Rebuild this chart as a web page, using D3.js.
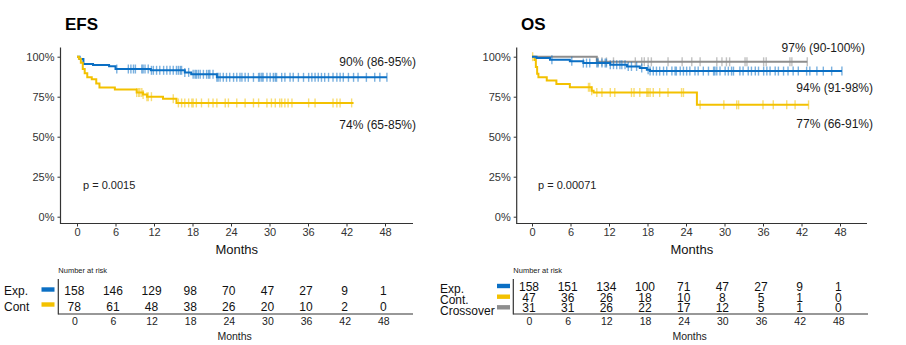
<!DOCTYPE html>
<html>
<head>
<meta charset="utf-8">
<script src="https://cdn.jsdelivr.net/npm/d3@7"></script>
<style>
  body { margin: 0; background: #fff; }
  svg { display: block; font-family: "Liberation Sans", Arial, sans-serif; }
</style>
</head>
<body>
<svg id="chart" width="906" height="345"></svg>
<script>
// survival steps [month, %] and censor times
const efsExpSteps = [[0,100],[0.4,98.5],[1.0,95.5],[2.5,94.8],[5.0,94.0],[6.0,92.3],[11.5,91.5],[16.8,90.2],[17.8,89.0],[21.8,87.1]];
const efsExpEnd = 48.3;
const efsExpCensor = [6.2,8.0,8.4,8.8,9.1,10.1,10.3,10.6,11.1,11.6,11.9,12.4,12.9,13.5,14.0,14.5,15.0,15.5,15.8,16.1,16.3,16.8,17.4,18.1,18.4,18.6,18.9,19.2,19.7,20.2,20.5,20.7,21.2,21.8,22.0,22.3,22.8,23.3,23.8,24.4,24.9,25.4,25.7,26.2,26.7,27.5,28.3,28.5,28.8,29.0,29.6,30.1,30.6,30.9,31.1,31.9,32.4,33.2,33.7,34.5,35.3,36.1,36.6,37.1,37.6,38.1,38.6,39.2,39.9,40.5,41.0,41.5,42.3,43.1,43.8,45.1,46.4,47.2,48.3];

const efsContSteps = [[0,100],[0.3,98.7],[0.6,96.2],[0.9,92.3],[1.2,89.7],[1.6,87.2],[2.3,85.9],[3.0,83.3],[3.5,80.8],[5.9,79.5],[9.3,77.6],[10.3,76.3],[10.9,75.0],[13.4,73.7],[15.5,71.1]];
const efsContEnd = 43.1;
const efsContCensor = [9.3,9.6,9.8,10.1,10.3,10.9,11.1,11.6,15.0,15.8,16.3,16.8,17.4,17.9,18.1,18.6,19.4,20.5,21.2,21.8,23.1,23.6,24.9,26.2,27.5,28.3,29.6,30.3,30.9,31.6,31.9,32.4,32.9,33.5,36.1,37.1,39.9,40.5,41.0,42.8];

const osExpSteps = [[0,100],[0.7,99.2],[2.8,98.1],[5.9,97.1],[8.0,96.0],[12.2,95.0],[14.8,93.9],[16.8,92.9],[17.9,91.8],[18.4,91.0]];
const osExpEnd = 48.3;
const osExpCensor = [3.1,6.2,8.0,8.5,9.0,10.1,10.3,10.9,11.4,11.6,12.2,12.7,13.2,13.7,14.0,14.5,15.0,15.5,16.3,17.1,18.1,18.4,18.9,19.4,19.9,20.5,21.0,21.8,22.3,22.5,23.1,23.6,24.1,24.6,25.4,25.9,26.7,27.5,28.3,28.5,28.8,29.3,30.1,30.6,31.1,31.4,32.4,32.9,33.7,34.2,34.8,35.3,36.1,36.6,37.1,37.9,38.4,39.2,39.9,40.7,41.5,42.8,43.3,44.4,45.4,46.7,48.3];

const osContSteps = [[0,100],[0.4,97.9],[0.6,93.6],[0.8,89.4],[1.0,87.2],[2.3,85.1],[3.8,83.0],[5.9,80.9],[9.3,78.7],[9.6,77.6],[25.7,69.9]];
const osContEnd = 43.1;
const osContCensor = [0.1,8.8,9.0,9.3,10.1,10.9,12.2,12.9,15.5,15.9,16.8,17.9,18.1,18.4,18.9,19.9,21.2,23.3,23.6,26.2,29.9,31.9,32.2,36.0,37.6,39.7,41.0,43.1];

const osCrossSteps = [[0,100],[10.1,96.8]];
const osCrossEnd = 42.9;
const osCrossCensor = [10.3,10.9,11.6,12.7,16.1,17.1,17.5,18.1,18.6,21.2,23.4,24.9,26.2,28.8,29.6,30.3,30.8,33.2,33.5,36.1,36.5,40.2,40.5,42.9];

// number at risk
const riskTimes = [0, 6, 12, 18, 24, 30, 36, 42, 48];
const efsRiskExp = [158, 146, 129, 98, 70, 47, 27, 9, 1];
const efsRiskCont = [78, 61, 48, 38, 26, 20, 10, 2, 0];
const osRiskExp = [158, 151, 134, 100, 71, 47, 27, 9, 1];
const osRiskCont = [47, 36, 26, 18, 10, 8, 5, 1, 0];
const osRiskCross = [31, 31, 26, 22, 17, 12, 5, 1, 0];

const xTicks = [0, 6, 12, 18, 24, 30, 36, 42, 48];
const yTicks = [0, 25, 50, 75, 100];

const BLUE = "#0b6fc4";
const YELLOW = "#f3c100";
const GRAY = "#8e8e8e";
const AXIS = "#333";

const svg = d3.select("#chart");

function survAt(steps, t) {
    let s = steps[0][1];
    steps.forEach(p => { if (p[0] <= t) s = p[1]; });
    return s;
}

function drawPanel(cfg) {
    const g = svg.append("g");
    const x = d3.scaleLinear().domain([0, 48]).range(cfg.xRange);
    const y = d3.scaleLinear().domain([0, 100]).range([216.7, 56.7]);

    g.append("text")
        .attr("x", cfg.titleX).attr("y", 30)
        .attr("font-size", 17).attr("font-weight", "bold").attr("fill", "#000")
        .text(cfg.title);

    // axes
    const xAxis = g.append("g").attr("transform", "translate(0,223.5)")
        .call(d3.axisBottom(x).tickValues(xTicks).tickSize(3).tickPadding(2));
    const yAxis = g.append("g").attr("transform", `translate(${cfg.axisLeft},0)`)
        .call(d3.axisLeft(y).tickValues(yTicks).tickSize(3).tickPadding(3).tickFormat(d => d + "%"));
    [xAxis, yAxis].forEach(a => {
        a.select(".domain").remove();
        a.selectAll("line").attr("stroke", AXIS);
        a.selectAll("text").attr("font-size", 11).attr("fill", "#333")
            .attr("font-family", "Liberation Sans, Arial, sans-serif");
    });
    g.append("line").attr("x1", cfg.axisLeft).attr("x2", cfg.axisLeft)
        .attr("y1", 47.5).attr("y2", 224).attr("stroke", AXIS).attr("stroke-width", 1.2);
    g.append("line").attr("x1", cfg.axisLeft).attr("x2", cfg.axisRight)
        .attr("y1", 223.5).attr("y2", 223.5).attr("stroke", AXIS).attr("stroke-width", 1.2);

    g.append("text")
        .attr("x", (cfg.axisLeft + cfg.axisRight) / 2).attr("y", 254)
        .attr("text-anchor", "middle").attr("font-size", 13).attr("fill", "#111")
        .text("Months");

    const line = d3.line().x(d => x(d[0])).y(d => y(d[1])).curve(d3.curveStepAfter);

    cfg.curves.forEach(c => {
        const pts = c.steps.concat([[c.end, c.steps[c.steps.length - 1][1]]]);
        g.append("path").datum(pts)
            .attr("d", line)
            .attr("fill", "none")
            .attr("stroke", c.color)
            .attr("stroke-width", 2);
        g.append("g").selectAll("line")
            .data(c.censor)
            .join("line")
            .attr("x1", d => x(d)).attr("x2", d => x(d))
            .attr("y1", d => y(survAt(c.steps, d)) - 4.5)
            .attr("y2", d => y(survAt(c.steps, d)) + 4.5)
            .attr("stroke", c.color)
            .attr("stroke-opacity", 0.55)
            .attr("stroke-width", 1.4);
    });

    cfg.notes.forEach(n => {
        g.append("text")
            .attr("x", n.x).attr("y", n.y)
            .attr("text-anchor", "end").attr("font-size", 12).attr("fill", "#1a1a1a")
            .text(n.text);
    });

    g.append("text")
        .attr("x", cfg.pX).attr("y", 189)
        .attr("font-size", 11).attr("fill", "#222")
        .text(cfg.pText);

    // risk table
    const rx = d3.scaleLinear().domain([0, 48]).range(cfg.riskRange);
    const t = svg.append("g");
    t.append("text").attr("x", cfg.riskLeft).attr("y", 273)
        .attr("font-size", 7.5).attr("fill", "#222").text("Number at risk");
    t.append("line").attr("x1", cfg.riskLeft).attr("x2", cfg.riskLeft)
        .attr("y1", 279).attr("y2", 314.5).attr("stroke", AXIS).attr("stroke-width", 1.2);
    t.append("line").attr("x1", cfg.riskLeft).attr("x2", cfg.riskRight)
        .attr("y1", 314).attr("y2", 314).attr("stroke", AXIS).attr("stroke-width", 1.2);

    const ra = t.append("g").attr("transform", "translate(0,314)")
        .call(d3.axisBottom(rx).tickValues(riskTimes).tickSize(0).tickPadding(4));
    ra.select(".domain").remove();
    ra.selectAll("text").attr("font-size", 10.5).attr("fill", "#222")
        .attr("font-family", "Liberation Sans, Arial, sans-serif");
    t.append("text").attr("x", (cfg.riskLeft + cfg.riskRight) / 2 - 1).attr("y", 340)
        .attr("text-anchor", "middle").attr("font-size", 10.5).attr("fill", "#222").text("Months");

    cfg.rows.forEach(r => {
        t.append("text").attr("x", cfg.labelX).attr("y", r.labelY)
            .attr("font-size", 12).attr("fill", "#111").text(r.label);
        t.append("rect").attr("x", cfg.swatchX).attr("y", r.swatchY - 2.2)
            .attr("width", 13).attr("height", 4.4).attr("fill", r.color);
        t.append("g").selectAll("text")
            .data(r.values)
            .join("text")
            .attr("x", (d, i) => rx(riskTimes[i]))
            .attr("y", r.y)
            .attr("text-anchor", "middle")
            .attr("font-size", cfg.riskFont)
            .attr("fill", "#111")
            .text(d => d);
    });
}

drawPanel({
    title: "EFS", titleX: 65,
    xRange: [77, 385], axisLeft: 60.5, axisRight: 413,
    curves: [
        { steps: efsExpSteps, end: efsExpEnd, censor: efsExpCensor, color: BLUE },
        { steps: efsContSteps, end: efsContEnd, censor: efsContCensor, color: YELLOW }
    ],
    notes: [
        { text: "90% (86-95%)", x: 416, y: 66 },
        { text: "74% (65-85%)", x: 416, y: 129 }
    ],
    pX: 83, pText: "p = 0.0015",
    riskRange: [74.3, 383.3], riskLeft: 58.3, riskRight: 413,
    labelX: 4, swatchX: 41.5, riskFont: 12,
    rows: [
        { label: "Exp.", labelY: 294.5, swatchY: 289.5, y: 294.5, values: efsRiskExp, color: BLUE },
        { label: "Cont", labelY: 310.5, swatchY: 304.5, y: 310.5, values: efsRiskCont, color: YELLOW }
    ]
});

drawPanel({
    title: "OS", titleX: 521,
    xRange: [532, 840], axisLeft: 516.7, axisRight: 867,
    curves: [
        { steps: osCrossSteps, end: osCrossEnd, censor: osCrossCensor, color: GRAY },
        { steps: osContSteps, end: osContEnd, censor: osContCensor, color: YELLOW },
        { steps: osExpSteps, end: osExpEnd, censor: osExpCensor, color: BLUE }
    ],
    notes: [
        { text: "97% (90-100%)", x: 865, y: 52 },
        { text: "94% (91-98%)", x: 873, y: 92 },
        { text: "77% (66-91%)", x: 873, y: 128 }
    ],
    pX: 538, pText: "p = 0.00071",
    riskRange: [529, 838.3], riskLeft: 513.3, riskRight: 868,
    labelX: 440, swatchX: 497, riskFont: 12,
    rows: [
        { label: "Exp.", labelY: 293, swatchY: 286, y: 291, values: osRiskExp, color: BLUE },
        { label: "Cont.", labelY: 304, swatchY: 296.7, y: 301.7, values: osRiskCont, color: YELLOW },
        { label: "Crossover", labelY: 315, swatchY: 307.3, y: 312.4, values: osRiskCross, color: GRAY }
    ]
});
</script>
</body>
</html>
